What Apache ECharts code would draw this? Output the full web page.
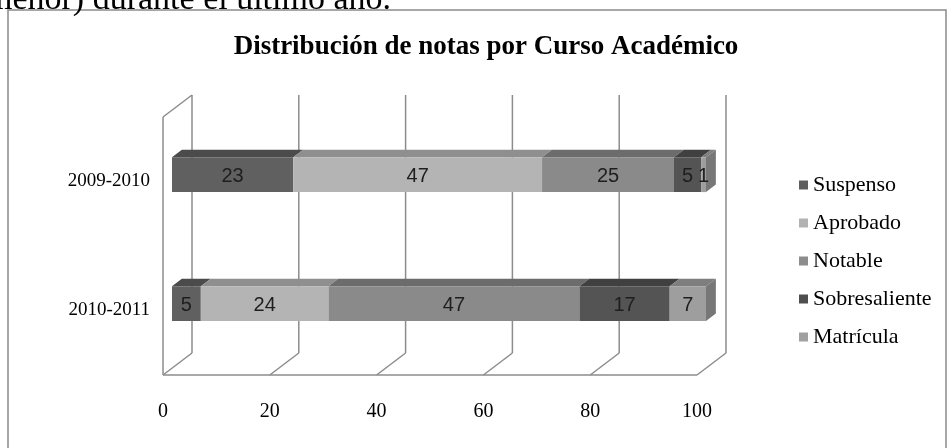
<!DOCTYPE html>
<html>
<head>
<meta charset="utf-8">
<script src="https://cdn.jsdelivr.net/npm/echarts@6/dist/echarts.min.js"></script>
<style>html,body{margin:0;padding:0;background:#fff}#c{width:950px;height:448px}</style>
</head>
<body>
<div id="c"></div>
<script>
// ---- data ----
const categories = ['2009-2010', '2010-2011'];
const suspenso = [22.7, 5.4];
const aprobado = [46.6, 23.9];
const notable = [24.7, 47.0];
const sobresaliente = [5.1, 16.9];
const matricula = [0.9, 6.8];
const seriesNames = ['Suspenso', 'Aprobado', 'Notable', 'Sobresaliente', 'Matrícula'];
const xTicks = [0, 20, 40, 60, 80, 100];

// ---- styles ----
const frontColors = ['#606060', '#b4b4b4', '#8a8a8a', '#545454', '#9e9e9e'];
const topColors = ['#4b4b4b', '#8f8f8f', '#6c6c6c', '#404040', '#7e7e7e'];
const sideColor = '#777777';
const legendColors = ['#5e5e5e', '#b2b2b2', '#8c8c8c', '#4e4e4e', '#a0a0a0'];
const DX = 29, DY = -22;      // full depth offset of the 3D box
const Z0 = 0.31, Z1 = 0.65;   // bar depth span
const BAR_RATIO = 0.27;
const gridColor = '#8c8c8c';

const allValues = [suspenso, aprobado, notable, sobresaliente, matricula];

function segData(si) {
  return categories.map((c, ci) => {
    let start = 0;
    for (let k = 0; k < si; k++) start += allValues[k][ci];
    const v = allValues[si][ci];
    const isLast = si === allValues.length - 1 ? 1 : 0;
    return [start, start + v, ci, v, isLast];
  });
}

function makeRender(si) {
  return function (params, api) {
    const start = api.value(0), end = api.value(1), cat = api.value(2), val = api.value(3), isLast = api.value(4);
    const a = api.coord([start, cat]), b = api.coord([end, cat]);
    const h = api.size([0, 1])[1] * BAR_RATIO;
    const fx0 = a[0] + Z0 * DX, fx1 = b[0] + Z0 * DX;
    const fyT = a[1] - h / 2 + Z0 * DY, fyB = fyT + h;
    const bx0 = a[0] + Z1 * DX, bx1 = b[0] + Z1 * DX;
    const byT = a[1] - h / 2 + Z1 * DY, byB = byT + h;
    const children = [
      { type: 'polygon', shape: { points: [[fx0, fyT], [fx1, fyT], [bx1, byT], [bx0, byT]] }, style: { fill: topColors[si] } },
      { type: 'rect', shape: { x: fx0, y: fyT, width: fx1 - fx0, height: h }, style: { fill: frontColors[si] } }
    ];
    if (isLast) {
      children.push({ type: 'polygon', shape: { points: [[fx1, fyT], [bx1, byT], [bx1, byB], [fx1, fyB]] }, style: { fill: sideColor } });
    }
    children.push({ type: 'text', style: { text: String(Math.round(val)), x: (fx0 + fx1) / 2, y: (fyT + fyB) / 2 + 2, align: 'center', verticalAlign: 'middle', fill: '#1e1e1e', font: '20px "Liberation Sans", sans-serif' } });
    return { type: 'group', children: children };
  };
}

function renderFrame(params, api) {
  const v = api.value(0);
  const cs = params.coordSys;
  const x = api.coord([v, 0])[0];
  const top = cs.y, bottom = cs.y + cs.height;
  const ls = { stroke: gridColor, lineWidth: 1.5, fill: null };
  const children = [
    { type: 'line', shape: { x1: x + DX, y1: top + DY, x2: x + DX, y2: bottom + DY }, style: ls },
    { type: 'line', shape: { x1: x, y1: bottom, x2: x + DX, y2: bottom + DY }, style: ls }
  ];
  if (v === xTicks[0]) {
    children.push({ type: 'line', shape: { x1: x, y1: top, x2: x, y2: bottom }, style: ls });
    children.push({ type: 'line', shape: { x1: x, y1: top, x2: x + DX, y2: top + DY }, style: ls });
    children.push({ type: 'line', shape: { x1: cs.x, y1: bottom, x2: cs.x + cs.width, y2: bottom }, style: ls });
  }
  return { type: 'group', children: children };
}

const series = [{
  type: 'custom', name: 'frame', renderItem: renderFrame, clip: false, silent: true,
  data: xTicks.map(v => [v, 0]), z: 1
}];
seriesNames.forEach((n, si) => {
  series.push({
    type: 'custom', name: n, renderItem: makeRender(si), clip: false, z: 2,
    itemStyle: { color: legendColors[si] },
    encode: { x: [0, 1], y: 2 },
    data: segData(si)
  });
});

const chart = echarts.init(document.getElementById('c'), null, { renderer: 'canvas' });
chart.setOption({
  animation: false,
  backgroundColor: '#fff',
  grid: { left: 163, top: 117, width: 534, height: 258 },
  xAxis: {
    type: 'value', min: 0, max: 100, interval: 20,
    axisLine: { show: false }, axisTick: { show: false }, splitLine: { show: false },
    axisLabel: { margin: 27, fontFamily: 'Liberation Serif', fontSize: 20, color: '#000' }
  },
  yAxis: {
    type: 'category', data: categories, inverse: true,
    axisLine: { show: false }, axisTick: { show: false }, splitLine: { show: false },
    axisLabel: { margin: 13, fontFamily: 'Liberation Serif', fontSize: 19, color: '#000' }
  },
  legend: {
    data: seriesNames, orient: 'vertical', left: 794, top: 169,
    icon: 'rect', itemWidth: 9, itemHeight: 9, itemGap: 16,
    textStyle: { fontFamily: 'Liberation Serif', fontSize: 22, color: '#000' },
    selectedMode: false
  },
  graphic: [
    { type: 'rect', shape: { x: 8, y: 10, width: 938, height: 470 }, style: { fill: null, stroke: '#8a8a8a', lineWidth: 1.5 }, z: 0 },
    { type: 'text', x: 486, y: 47, style: { text: 'Distribución de notas por Curso Académico', align: 'center', verticalAlign: 'middle', font: 'bold 27px "Liberation Serif", serif', fill: '#000' } },
    { type: 'text', x: -14, y: 17, style: { text: 'menor) durante el último año.', align: 'left', verticalAlign: 'bottom', font: '34px "Liberation Serif", serif', fill: '#000' } }
  ],
  series: series
});
</script>
</body>
</html>
